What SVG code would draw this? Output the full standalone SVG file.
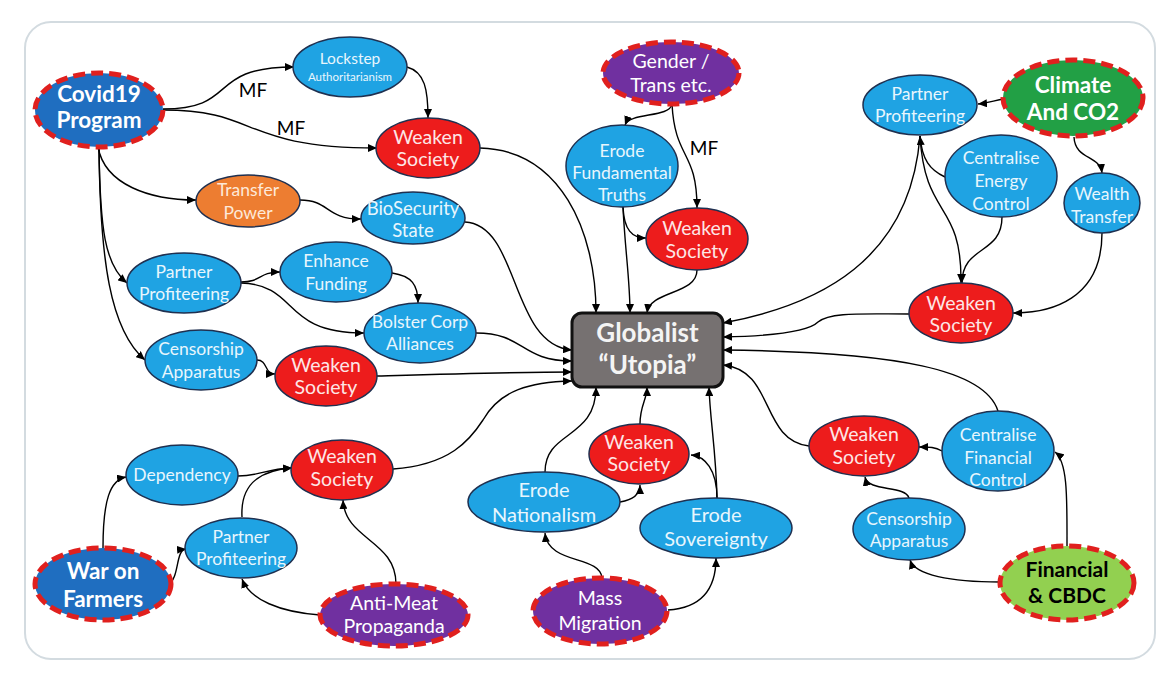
<svg xmlns="http://www.w3.org/2000/svg" width="1174" height="678" viewBox="0 0 1174 678">
<defs>
<marker id="ah" markerUnits="userSpaceOnUse" markerWidth="10" markerHeight="8" refX="9" refY="4" orient="auto">
<path d="M0,0 L9,4 L0,8 z" fill="#000"/>
</marker>
<style>
text{font-family:Lato,"Liberation Sans",sans-serif;text-anchor:middle}
.e{stroke:#1f3050;stroke-width:1.5}
.blue{fill:#1fa3e3}
.dblue{fill:#1f6ec0}
.red{fill:#ed1c1c}
.orange{fill:#ed7d31}
.purple{fill:#7030a0}
.green{fill:#22a045}
.lgreen{fill:#92d050}
.dash{stroke:#e0201e;stroke-width:5;stroke-dasharray:12 6}
.tb{fill:#e8f6fd;font-size:17.5px}
.tr{fill:#fde6e6;font-size:19.5px}
.tw{fill:#ffffff;font-size:19.5px}
.tbold{fill:#ffffff;font-weight:bold;font-size:22.5px}
.mf{fill:#000;font-size:19px}
.glob{fill:#f4f4f4;font-weight:bold;font-size:26px}
#edges path{fill:none;stroke:#000;stroke-width:1.4;marker-end:url(#ah)}
</style>
</defs>
<rect x="0" y="0" width="1174" height="678" fill="#ffffff"/>
<rect x="25" y="22" width="1130" height="637" rx="26" fill="#ffffff" stroke="#d3dbe0" stroke-width="2"/>

<g id="edges">
<path d="M163,109 C240,109 205,67 294,67"/>
<path d="M163,110 C260,110 240,148 377,148"/>
<path d="M407,67 C425,72 428,90 428,118"/>
<path d="M98,147 C105,185 150,200 196,200"/>
<path d="M99,147 C100,230 105,265 127,283"/>
<path d="M99,147 C100,260 110,330 145,360"/>
<path d="M300,200 C330,200 325,219 361,219"/>
<path d="M465,222 C520,225 510,345 572,350"/>
<path d="M241,282 C262,282 258,272 280,272"/>
<path d="M241,283 C300,285 280,333 364,333"/>
<path d="M392,273 C412,276 418,285 418,303"/>
<path d="M476,333 C525,333 520,361 572,361"/>
<path d="M257,360 C268,360 264,374 275,374"/>
<path d="M377,376 C450,374 520,372 572,372"/>
<path d="M480,148 C560,150 596,230 596,313"/>
<path d="M623,207 C625,250 630,280 630,313"/>
<path d="M623,207 C624,230 632,238 646,238"/>
<path d="M697,270 C697,295 650,290 647,313"/>
<path d="M672,104 C670,118 630,112 625,125"/>
<path d="M672,104 C675,160 697,150 697,208"/>
<path d="M1004,99 C995,100 990,103 978,104"/>
<path d="M1074,137 C1075,160 1100,155 1102,173"/>
<path d="M1102,233 C1102,300 1050,313 1013,313"/>
<path d="M1002,217 C1002,255 962,245 962,283"/>
<path d="M945,177 C930,170 922,160 920,136"/>
<path d="M920,136 C925,220 962,200 961,283"/>
<path d="M920,136 C910,260 820,305 723,323"/>
<path d="M909,314 C860,314 830,312 818,322 C808,332 770,336 723,337"/>
<path d="M998,411 C985,370 900,352 723,350"/>
<path d="M809,446 C760,440 775,370 723,365"/>
<path d="M942,451 C935,447 930,447 919,447"/>
<path d="M909,498 C905,485 868,492 865,477"/>
<path d="M1000,582 C950,582 915,575 910,560"/>
<path d="M1067,546 C1067,500 1068,462 1055,452"/>
<path d="M602,578 C600,555 548,565 545,533"/>
<path d="M668,610 C700,608 716,590 716,558"/>
<path d="M620,502 C632,500 640,495 640,485"/>
<path d="M545,472 C545,430 596,440 596,387"/>
<path d="M640,424 C640,405 647,400 647,387"/>
<path d="M717,498 C717,470 705,456 691,455"/>
<path d="M717,498 C716,450 710,420 709,387"/>
<path d="M393,469 C450,465 470,440 483,420 C500,390 530,382 572,381"/>
<path d="M238,476 C260,476 265,469 292,468"/>
<path d="M242,517 C240,480 265,470 292,468"/>
<path d="M103,548 C103,500 110,480 126,477"/>
<path d="M168,585 C180,578 175,550 186,549"/>
<path d="M320,615 C280,612 250,600 242,579"/>
<path d="M396,584 C396,540 345,540 343,500"/>
</g>

<g id="labels">
<text class="mf" x="253" y="97">MF</text>
<text class="mf" x="291" y="135">MF</text>
<text class="mf" x="704" y="155">MF</text>
</g>

<g id="covid"><ellipse class="dblue dash" cx="99" cy="110" rx="64" ry="37"/>
<text class="tbold" x="99" y="102">Covid19</text><text class="tbold" x="99" y="128">Program</text></g>
<g id="lockstep"><ellipse class="e blue" cx="350" cy="67" rx="57" ry="30"/>
<text class="tb" style="font-size:15.5px" x="350" y="64">Lockstep</text><text class="tb" style="font-size:11.5px" x="350" y="81">Authoritarianism</text></g>
<g id="weaken1"><ellipse class="e red" cx="428" cy="148" rx="52" ry="30"/>
<text class="tr" x="428" y="144">Weaken</text><text class="tr" x="428" y="166">Society</text></g>
<g id="transfer"><ellipse class="e orange" cx="248" cy="201" rx="52" ry="26"/>
<text class="tb" style="fill:#fde9d9" x="248" y="196">Transfer</text><text class="tb" style="fill:#fde9d9" x="248" y="219">Power</text></g>
<g id="biosecurity"><ellipse class="e blue" cx="413" cy="218" rx="52" ry="26"/>
<text class="tb" style="font-size:18.5px" x="413" y="215">BioSecurity</text><text class="tb" style="font-size:18.5px" x="413" y="237">State</text></g>
<g id="gender"><ellipse class="purple dash" cx="671" cy="73" rx="68" ry="31"/>
<text class="tw" x="671" y="68">Gender /</text><text class="tw" x="671" y="92">Trans etc.</text></g>
<g id="erodeTruths"><ellipse class="e blue" cx="622" cy="166" rx="56" ry="41"/>
<text class="tb" x="622" y="157">Erode</text><text class="tb" x="622" y="179">Fundamental</text><text class="tb" x="622" y="201">Truths</text></g>
<g id="weakenGender"><ellipse class="e red" cx="697" cy="239" rx="51" ry="31"/>
<text class="tr" x="697" y="235">Weaken</text><text class="tr" x="697" y="258">Society</text></g>
<g id="partnerTR"><ellipse class="e blue" cx="920" cy="105" rx="57" ry="30"/>
<text class="tb" x="920" y="100">Partner</text><text class="tb" x="920" y="122">Profiteering</text></g>
<g id="climate"><ellipse class="green dash" cx="1073" cy="98" rx="70" ry="38"/>
<text class="tbold" x="1073" y="93">Climate</text><text class="tbold" x="1073" y="120">And CO2</text></g>
<g id="energy"><ellipse class="e blue" cx="1001" cy="176" rx="56" ry="41"/>
<text class="tb" x="1001" y="164">Centralise</text><text class="tb" x="1001" y="187">Energy</text><text class="tb" x="1001" y="210">Control</text></g>
<g id="wealth"><ellipse class="e blue" cx="1102" cy="203" rx="38" ry="30"/>
<text class="tb" x="1102" y="200">Wealth</text><text class="tb" x="1102" y="223">Transfer</text></g>
<g id="weakenTR"><ellipse class="e red" cx="961" cy="313" rx="52" ry="30"/>
<text class="tr" x="961" y="310">Weaken</text><text class="tr" x="961" y="332">Society</text></g>
<g id="partnerL"><ellipse class="e blue" cx="184" cy="283" rx="57" ry="30"/>
<text class="tb" x="184" y="278">Partner</text><text class="tb" x="184" y="300">Profiteering</text></g>
<g id="enhance"><ellipse class="e blue" cx="336" cy="272" rx="56" ry="30"/>
<text class="tb" x="336" y="267">Enhance</text><text class="tb" x="336" y="290">Funding</text></g>
<g id="bolster"><ellipse class="e blue" cx="420" cy="333" rx="56" ry="30"/>
<text class="tb" x="420" y="328">Bolster Corp</text><text class="tb" x="420" y="350">Alliances</text></g>
<g id="censorshipL"><ellipse class="e blue" cx="201" cy="360" rx="56" ry="30"/>
<text class="tb" x="201" y="355">Censorship</text><text class="tb" x="201" y="378">Apparatus</text></g>
<g id="weakenML"><ellipse class="e red" cx="326" cy="376" rx="51" ry="30"/>
<text class="tr" x="326" y="372">Weaken</text><text class="tr" x="326" y="394">Society</text></g>
<g id="globalist"><rect x="572" y="313" width="151" height="74" rx="10" fill="#767171" stroke="#111" stroke-width="3"/>
<text class="glob" x="647.5" y="342">Globalist</text><text class="glob" x="647.5" y="374">“Utopia”</text></g>
<g id="dependency"><ellipse class="e blue" cx="182" cy="475" rx="56" ry="30"/>
<text class="tb" x="182" y="481">Dependency</text></g>
<g id="weakenBL"><ellipse class="e red" cx="342" cy="470" rx="51" ry="30"/>
<text class="tr" x="342" y="463">Weaken</text><text class="tr" x="342" y="486">Society</text></g>
<g id="partnerBL"><ellipse class="e blue" cx="241" cy="548" rx="56" ry="30"/>
<text class="tb" x="241" y="543">Partner</text><text class="tb" x="241" y="565">Profiteering</text></g>
<g id="war"><ellipse class="dblue dash" cx="103" cy="584" rx="68" ry="36"/>
<text class="tbold" x="103" y="579">War on</text><text class="tbold" x="103" y="607">Farmers</text></g>
<g id="antimeat"><ellipse class="purple dash" cx="394" cy="615" rx="74" ry="31"/>
<text class="tw" x="394" y="610">Anti-Meat</text><text class="tw" x="394" y="633">Propaganda</text></g>
<g id="weakenBC"><ellipse class="e red" cx="639" cy="454" rx="50" ry="30"/>
<text class="tr" x="639" y="449">Weaken</text><text class="tr" x="639" y="471">Society</text></g>
<g id="nationalism"><ellipse class="e blue" cx="544" cy="502" rx="76" ry="30"/>
<text class="tb" style="font-size:20px" x="544" y="497">Erode</text><text class="tb" style="font-size:20px" x="544" y="522">Nationalism</text></g>
<g id="sovereignty"><ellipse class="e blue" cx="716" cy="528" rx="76" ry="30"/>
<text class="tb" style="font-size:20px" x="716" y="522">Erode</text><text class="tb" style="font-size:20px" x="716" y="546">Sovereignty</text></g>
<g id="migration"><ellipse class="purple dash" cx="600" cy="611" rx="67" ry="33"/>
<text class="tw" x="600" y="605">Mass</text><text class="tw" x="600" y="630">Migration</text></g>
<g id="weakenBR"><ellipse class="e red" cx="864" cy="446" rx="55" ry="30"/>
<text class="tr" x="864" y="441">Weaken</text><text class="tr" x="864" y="464">Society</text></g>
<g id="financialControl"><ellipse class="e blue" cx="998" cy="451" rx="56" ry="40"/>
<text class="tb" x="998" y="441">Centralise</text><text class="tb" x="998" y="464">Financial</text><text class="tb" x="998" y="486">Control</text></g>
<g id="censorshipBR"><ellipse class="e blue" cx="909" cy="529" rx="56" ry="31"/>
<text class="tb" x="909" y="525">Censorship</text><text class="tb" x="909" y="547">Apparatus</text></g>
<g id="financial"><ellipse class="lgreen dash" cx="1067" cy="583" rx="67" ry="37"/>
<text class="tbold" style="fill:#000;font-size:21px" x="1067" y="577">Financial</text><text class="tbold" style="fill:#000;font-size:21px" x="1067" y="603">&amp; CBDC</text></g>
</svg>
